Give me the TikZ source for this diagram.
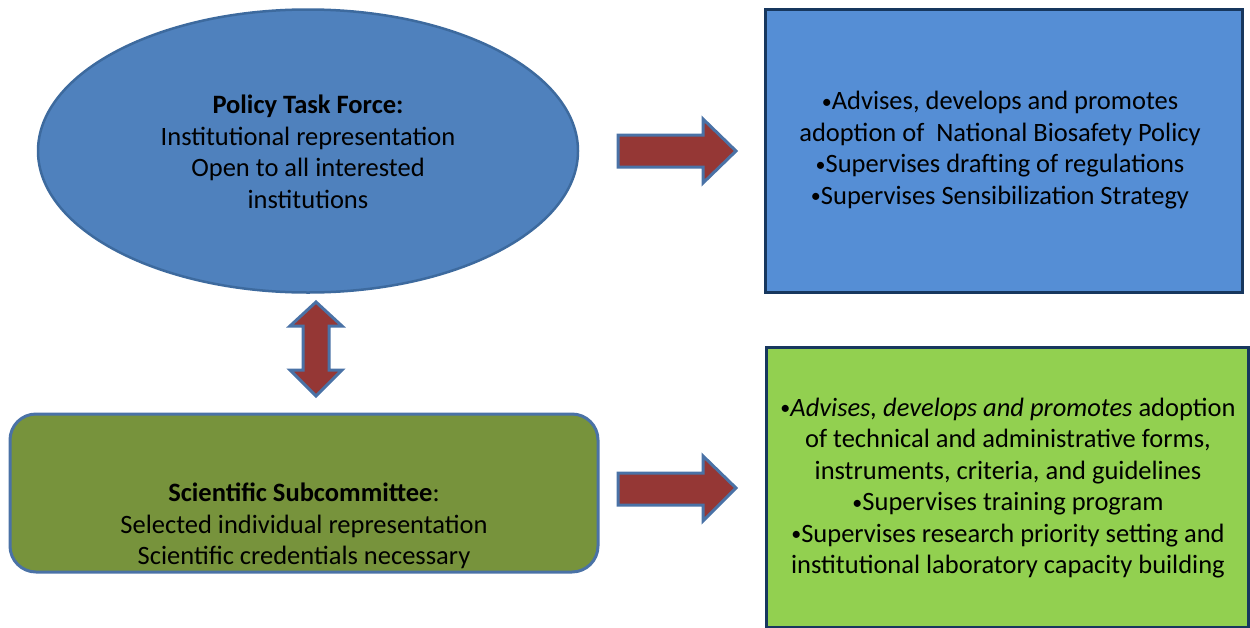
\documentclass[tikz,border=0pt]{standalone}
\usepackage{fontspec}
\setmainfont{Carlito}
\usetikzlibrary{shapes.geometric}
\definecolor{ellfill}{HTML}{4F81BD}
\definecolor{ellline}{HTML}{3D6A9E}
\definecolor{boxblue}{HTML}{558ED5}
\definecolor{navy}{HTML}{17375E}
\definecolor{boxgreen}{HTML}{92D050}
\definecolor{olive}{HTML}{77933C}
\definecolor{arrred}{HTML}{953735}
\definecolor{arrline}{HTML}{4A72A6}
\newcommand{\bul}{{\fontsize{20}{20}\selectfont\raisebox{1.5pt}{•}}}
\tikzset{
  x=1pt, y=-1pt,
  txt/.style={align=center, font=\fontsize{26.5}{31.5}\selectfont, text=black, inner sep=0pt},
  bigarrow/.style={fill=arrred, draw=arrline, line width=3pt, line join=miter},
  infobox/.style={draw=navy, line width=3pt},
}
\begin{document}
\begin{tikzpicture}
\useasboundingbox (0,0) rectangle (1250,627);
% ellipse
\node[ellipse, draw=ellline, line width=2.5pt, fill=ellfill,
      minimum width=540pt, minimum height=283pt, inner sep=0pt] (ptf) at (308,151) {};
\node[txt] (ptftext) at (308,152) {\textbf{Policy Task Force:}\\Institutional representation\\Open to all interested\\institutions};
% scientific subcommittee
\node[draw=arrline, line width=3pt, fill=olive, rounded corners=26pt,
      minimum width=588pt, minimum height=158pt, inner sep=0pt] (ssc) at (304,493) {};
\node[txt] (ssctext) at (304,526) {\textbf{Scientific Subcommittee}:\\Selected individual representation\\Scientific credentials necessary};
% right boxes
\node[infobox, fill=boxblue, minimum width=477pt, minimum height=283pt, inner sep=0pt] (pbox) at (1004,151) {};
\node[txt] (ptext) at (1000,150) {\bul Advises, develops and promotes\\adoption of~~National Biosafety~Policy\\\bul Supervises drafting of regulations\\\bul Supervises Sensibilization Strategy};
\node[infobox, fill=boxgreen, minimum width=482pt, minimum height=280pt, inner sep=0pt] (sbox) at (1007.5,487) {};
\node[txt] (stext) at (1008,488) {\bul\textit{Advises, develops and promotes} adoption\\of technical and administrative forms,\\instruments, criteria, and guidelines\\\bul Supervises training program\\\bul Supervises research priority setting~and\\institutional laboratory capacity building};
% arrows
\draw[bigarrow] (618,135) -- (703,135) -- (703,119) -- (736,151) -- (703,183) -- (703,167) -- (618,167) -- cycle;
\draw[bigarrow] (618,473) -- (703,473) -- (703,456) -- (736,488) -- (703,521) -- (703,505) -- (618,505) -- cycle;
\draw[bigarrow] (316,302) -- (342,326) -- (329,326) -- (329,370) -- (342,370) -- (316,396) -- (290,370) -- (303,370) -- (303,326) -- (290,326) -- cycle;
\end{tikzpicture}
\end{document}
